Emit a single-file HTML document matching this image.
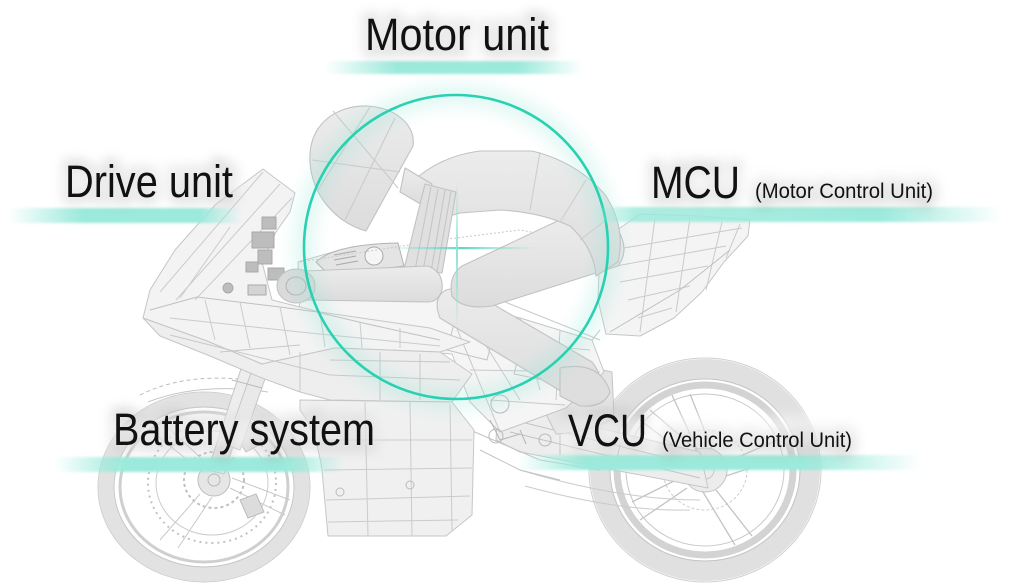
<!DOCTYPE html>
<html><head><meta charset="utf-8">
<style>
html,body{margin:0;padding:0;background:#fff;width:1013px;height:584px;overflow:hidden;}
svg{display:block;}
.t{font-family:"Liberation Sans",sans-serif;fill:#111;}
.h{font-family:"Liberation Sans",sans-serif;fill:#9a9a9a;stroke:#9a9a9a;stroke-width:9;}
</style></head><body>
<svg width="1013" height="584" viewBox="0 0 1013 584" xmlns="http://www.w3.org/2000/svg">
<defs>
 <filter id="b1" x="-5%" y="-100%" width="110%" height="300%"><feGaussianBlur stdDeviation="1.2"/></filter>
 <filter id="b6" x="-20%" y="-80%" width="140%" height="260%"><feGaussianBlur stdDeviation="6"/></filter>
 <filter id="b9" x="-30%" y="-30%" width="160%" height="160%"><feGaussianBlur stdDeviation="9"/></filter>
 <linearGradient id="gM" gradientUnits="userSpaceOnUse" x1="325" x2="582"><stop offset="0" stop-color="#9beadb" stop-opacity="0"/><stop offset=".28" stop-color="#9beadb"/><stop offset=".75" stop-color="#9beadb"/><stop offset="1" stop-color="#9beadb" stop-opacity="0"/></linearGradient>
 <linearGradient id="gD" gradientUnits="userSpaceOnUse" x1="8" x2="242"><stop offset="0" stop-color="#9beadb" stop-opacity="0"/><stop offset=".32" stop-color="#9beadb"/><stop offset=".82" stop-color="#9beadb"/><stop offset="1" stop-color="#9beadb" stop-opacity="0"/></linearGradient>
 <linearGradient id="gC" gradientUnits="userSpaceOnUse" x1="592" x2="1002"><stop offset="0" stop-color="#9beadb" stop-opacity="0"/><stop offset=".1" stop-color="#9beadb" stop-opacity=".8"/><stop offset=".7" stop-color="#9beadb"/><stop offset="1" stop-color="#9beadb" stop-opacity="0"/></linearGradient>
 <linearGradient id="gB" gradientUnits="userSpaceOnUse" x1="55" x2="345"><stop offset="0" stop-color="#9beadb" stop-opacity="0"/><stop offset=".24" stop-color="#9beadb"/><stop offset=".8" stop-color="#9beadb"/><stop offset="1" stop-color="#9beadb" stop-opacity="0"/></linearGradient>
 <linearGradient id="gV" gradientUnits="userSpaceOnUse" x1="518" x2="922"><stop offset="0" stop-color="#9beadb" stop-opacity="0"/><stop offset=".17" stop-color="#9beadb"/><stop offset=".7" stop-color="#9beadb"/><stop offset="1" stop-color="#9beadb" stop-opacity="0"/></linearGradient>
 <linearGradient id="gH" gradientUnits="userSpaceOnUse" x1="388" x2="536"><stop offset="0" stop-color="#6fdcc6" stop-opacity="0"/><stop offset=".5" stop-color="#5fd8c0"/><stop offset="1" stop-color="#6fdcc6" stop-opacity="0"/></linearGradient>
 <linearGradient id="gVt" gradientUnits="userSpaceOnUse" x1="0" y1="180" x2="0" y2="330"><stop offset="0" stop-color="#8ee4d2" stop-opacity="0"/><stop offset=".5" stop-color="#8ee4d2"/><stop offset="1" stop-color="#8ee4d2" stop-opacity="0"/></linearGradient>
 <linearGradient id="rider" x1="0" y1="0" x2="0" y2="1"><stop offset="0" stop-color="#ececec"/><stop offset="1" stop-color="#dcdcdc"/></linearGradient>
</defs>

<!-- ===== BIKE ===== -->
<g stroke="#c6c6c6" stroke-width="1" fill="none" stroke-linejoin="round">
 <!-- rear wheel -->
 <ellipse cx="705" cy="470" rx="116" ry="112" stroke="#d0d0d0"/>
 <ellipse cx="705" cy="470" rx="105" ry="101" stroke="#e0e0e0" stroke-width="20"/>
 <ellipse cx="705" cy="470" rx="95" ry="91" stroke="#c4c4c4"/>
 <ellipse cx="705" cy="470" rx="88" ry="85" stroke="#d3d3d3" stroke-width="7"/>
 <ellipse cx="705" cy="470" rx="79" ry="76" stroke="#c8c8c8"/>
 <ellipse cx="705" cy="470" rx="42" ry="40" stroke="#cfcfcf" stroke-dasharray="3 2"/>
 <circle cx="705" cy="470" r="22" fill="#ececec"/>
 <circle cx="705" cy="470" r="9"/>
 <path d="M697 449 L672 395 M712 449 L690 394 M724 463 L778 440 M726 476 L780 458 M716 490 L752 536 M703 492 L735 545 M687 488 L640 520 M684 476 L632 502 M690 458 L640 420 M697 450 L650 410" stroke="#c3c3c3" stroke-width="1.3"/>
 <!-- front wheel -->
 <ellipse cx="204" cy="487" rx="106" ry="95" stroke="#cdcdcd"/>
 <ellipse cx="204" cy="487" rx="98" ry="87" stroke="#e2e2e2" stroke-width="15"/>
 <ellipse cx="204" cy="487" rx="90" ry="80" stroke="#c6c6c6"/>
 <ellipse cx="204" cy="487" rx="84" ry="75" stroke="#cfcfcf" stroke-width="3"/>
 <ellipse cx="212" cy="483" rx="64" ry="60" stroke="#c2c2c2" stroke-dasharray="2 4" stroke-width="2"/>
 <ellipse cx="212" cy="483" rx="56" ry="52" stroke="#cbcbcb"/>
 <ellipse cx="214" cy="480" rx="30" ry="28" stroke="#c0c0c0" stroke-dasharray="3 3" stroke-width="2"/>
 <circle cx="214" cy="480" r="16" fill="#e6e6e6" stroke="#bdbdbd"/>
 <circle cx="214" cy="480" r="6" stroke="#b8b8b8"/>
 <path d="M200 470 L150 430 M205 462 L160 420 M200 494 L160 540 M212 497 L178 548 M230 488 L285 515 M232 478 L290 500" stroke="#c9c9c9"/>
 <path d="M232 430 l18 -10 l14 22 l-18 10 Z M240 500 l16 -6 l8 18 l-16 6 Z" fill="#dcdcdc" stroke="#bbb"/>
 <!-- front fender -->
 <path d="M140 395 Q190 370 262 382" stroke="#bdbdbd" stroke-dasharray="4 3"/>
 <path d="M148 402 Q200 382 268 392"/>
 <!-- forks -->
 <path d="M208 470 L252 335 L268 338 L224 474 Z" fill="#ededed"/>
 <path d="M226 445 L270 318 L285 322 L240 450 Z" fill="#e9e9e9"/>
 <path d="M232 380 l30 8 M238 360 l30 8 M244 343 l28 7" stroke="#bbb"/>

 <!-- swingarm / chain -->
 <path d="M498 404 L700 452 L708 488 L520 452 L496 440 Z" fill="#ededed"/>
 <path d="M505 418 L700 466 M510 432 L700 478 M560 430 L560 455 M620 444 L615 470" stroke="#c2c2c2"/>
 <path d="M520 470 Q620 500 700 500 M525 486 Q620 512 690 510" stroke="#cbcbcb"/>
 <!-- hugger -->
 <path d="M540 402 Q575 362 612 372 L614 418 Q590 432 556 434 Z" fill="#e5e5e5" stroke="#c4c4c4"/>

 <!-- tail -->
 <path d="M600 242 L640 214 L700 216 L750 220 L748 236 L724 262 L702 292 L674 318 L640 336 L606 334 L598 300 Z" fill="#f4f4f4"/>
 <path d="M612 250 L742 228 M616 266 L726 246 M620 282 L708 266 M628 300 L690 286 M638 318 L672 308 M655 218 L640 332 M690 218 L676 312 M722 222 L706 290 M740 224 L726 258" stroke="#cacaca"/>
 <path d="M610 332 L680 290 L730 250 M600 330 L560 380" stroke="#c0c0c0"/>

 <!-- tank / frame area -->
 <path d="M298 262 L340 250 L402 266 L445 300 L520 318 L592 340 L604 372 L566 408 L500 432 L470 402 L452 354 L335 346 L300 322 Z" fill="#f5f5f5"/>
 <path d="M445 300 L470 360 L500 432 M470 320 L520 400 M520 318 L540 390 M560 330 L556 400 M480 340 L590 350 M470 370 L600 372 M490 400 L565 405 M600 340 L500 300" stroke="#c9c9c9"/>
 <path d="M455 320 l40 10 l-8 30 l-40 -10 Z M520 350 l30 6 l-6 24 l-30 -6 Z" stroke="#c4c4c4"/>
 <circle cx="500" cy="404" r="9" stroke="#b9b9b9"/>
 <circle cx="496" cy="436" r="7" stroke="#b9b9b9"/>
 <circle cx="545" cy="440" r="6" stroke="#b9b9b9"/>
 <path d="M470 430 L540 460 L600 470 M480 450 L520 470 L560 480" stroke="#c2c2c2"/>
 <path d="M490 420 l10 20 l20 -6 M520 430 l6 14" stroke="#b5b5b5"/>

 <!-- upper fairing -->
 <path d="M263 169 L295 193 L290 212 L276 232 L262 262 L272 300 L320 312 L430 328 L470 342 L440 352 L335 348 L262 364 L207 341 L143 318 L150 290 L175 250 L215 205 Z" fill="#f3f3f3"/>
 <path d="M263 172 L160 292 M280 184 L176 300 M292 198 L195 300 M230 227 L180 298" stroke="#cbcbcb"/>
 <path d="M150 310 L197 297 L280 307 L317 312 L363 323 L440 340" stroke="#c0c0c0"/>
 <path d="M170 318 L300 332 L440 346 M205 300 L215 340 M240 302 L250 348 M280 307 L290 355 M320 312 L325 347 M360 322 L362 348 M400 328 L400 348" stroke="#cbcbcb"/>
 <!-- side fairing -->
 <path d="M143 318 L207 341 L262 364 L335 348 L440 352 L472 374 L452 402 L330 400 L300 392 L262 378 L210 356 L160 336 Z" fill="#eeeeee"/>
 <path d="M170 335 L330 375 L460 380 M220 352 L300 345 M330 360 L450 362 M300 352 L300 392 M380 352 L380 400 M420 354 L420 400" stroke="#c8c8c8"/>
 <!-- lower fairing -->
 <path d="M300 400 L452 402 L474 430 L472 515 L446 536 L328 536 L322 470 Q316 430 300 410 Z" fill="#f0f0f0"/>
 <path d="M322 440 L472 440 M324 470 L472 468 M326 500 L470 496 M328 522 L458 520 M365 402 L368 536 M410 402 L412 536 M450 404 L452 530" stroke="#cbcbcb"/>
 <circle cx="340" cy="492" r="4" stroke="#bbb"/><circle cx="410" cy="485" r="4" stroke="#bbb"/>

 <!-- clip-on / mirror clutter -->
 <g fill="#bdbdbd" stroke="#a8a8a8">
  <rect x="262" y="217" width="14" height="12"/>
  <rect x="252" y="232" width="22" height="16"/>
  <rect x="258" y="250" width="14" height="14"/>
  <rect x="246" y="262" width="12" height="10"/>
  <rect x="268" y="268" width="16" height="12"/>
  <circle cx="228" cy="288" r="5"/>
  <rect x="248" y="285" width="18" height="10" fill="#d4d4d4"/>
 </g>
 <!-- dash -->
 <path d="M316 262 Q335 244 398 243 L404 266 L330 276 Z" fill="#e4e4e4" stroke="#b3b3b3"/>
 <circle cx="374" cy="256" r="9" fill="#f6f6f6" stroke="#aaa"/>
 <path d="M334 255 l22 -4 M334 260 l22 -4 M336 265 l22 -4" stroke="#a8a8a8"/>
 <path d="M300 262 L440 240 L520 230 L600 245" stroke="#c9c9c9" stroke-dasharray="2 2"/>
</g>

<!-- ===== RIDER ===== -->
<g stroke="#c2c2c2" stroke-width="1.1" fill="url(#rider)" stroke-linejoin="round">
 <!-- shin -->
 <path d="M462 286 L592 362 Q606 380 596 394 L572 398 L440 318 Q432 298 446 290 Z"/>
 <path d="M560 368 Q600 360 610 392 Q604 408 580 406 L560 396 Z" fill="#dedede"/>
 <!-- thigh -->
 <path d="M566 217 L618 230 Q630 250 618 266 L492 306 Q462 310 452 296 Q448 276 462 266 Z"/>
 <!-- torso -->
 <path d="M412 182 Q440 156 480 151 L532 151 Q578 162 606 196 Q626 228 618 262 L596 276 Q594 248 570 226 Q540 212 500 210 L460 213 L430 222 Z"/>
 <path d="M540 152 L530 210 M586 180 L560 222 M606 220 L580 240" stroke="#cdcdcd" fill="none"/>
 <!-- helmet -->
 <path d="M310 162 C308 125 335 105 368 106 C397 108 416 126 413 146 L366 231 C335 222 312 195 310 162 Z"/>
 <path d="M333 111 L398 188 M370 107 L318 190 M395 118 L345 220 M312 160 L400 172" stroke="#cbcbcb" fill="none"/>
 <path d="M405 168 L432 184 L424 206 L400 192 Z"/>
 <!-- upper arm (sleeve) -->
 <path d="M425 184 L456 192 L442 273 L404 269 Z" fill="#e0e0e0"/>
 <path d="M431 187 L415 270 M438 189 L423 271 M445 190 L431 272 M451 191 L437 272" stroke="#c6c6c6" fill="none"/>
 <!-- forearm -->
 <path d="M305 271 L428 266 Q444 272 442 290 Q438 302 428 302 L305 300 Z"/>
 <ellipse cx="296" cy="286" rx="19" ry="17" fill="#dadada"/>
 <ellipse cx="296" cy="286" rx="10" ry="9" fill="none" stroke="#b5b5b5"/>
</g>

<!-- ===== TEAL CIRCLE ===== -->
<circle cx="456" cy="247" r="152" fill="none" stroke="#8fe6d4" stroke-width="16" opacity=".35" filter="url(#b9)"/>
<circle cx="456" cy="247" r="152" fill="none" stroke="#27d1b1" stroke-width="2.6"/>
<rect x="388" y="247" width="148" height="2.2" fill="url(#gH)"/>
<rect x="456" y="180" width="2" height="150" fill="url(#gVt)"/>

<!-- ===== BARS ===== -->
<g filter="url(#b1)">
 <rect x="325" y="61" width="257" height="13" fill="url(#gM)"/>
 <rect x="8" y="208" width="234" height="15" fill="url(#gD)"/>
 <rect x="592" y="207" width="410" height="15" fill="url(#gC)"/>
 <rect x="55" y="457" width="290" height="15" fill="url(#gB)"/>
 <rect x="518" y="455" width="404" height="15" fill="url(#gV)"/>
</g>

<!-- ===== TEXT HALOS ===== -->
<g filter="url(#b6)" opacity=".45">
 <text class="h" x="365" y="50" font-size="45" textLength="184" lengthAdjust="spacingAndGlyphs">Motor unit</text>
 <text class="h" x="65" y="197" font-size="45" textLength="168" lengthAdjust="spacingAndGlyphs">Drive unit</text>
 <text class="h" x="651" y="198" font-size="45" textLength="89" lengthAdjust="spacingAndGlyphs">MCU</text>
 <text class="h" x="755" y="198" font-size="21" textLength="178" lengthAdjust="spacingAndGlyphs">(Motor Control Unit)</text>
 <text class="h" x="113" y="445" font-size="45" textLength="262" lengthAdjust="spacingAndGlyphs">Battery system</text>
 <text class="h" x="568" y="446" font-size="45" textLength="79" lengthAdjust="spacingAndGlyphs">VCU</text>
 <text class="h" x="662" y="447" font-size="21" textLength="190" lengthAdjust="spacingAndGlyphs">(Vehicle Control Unit)</text>
</g>
<g fill="#fff" opacity=".55" filter="url(#b6)">
 <rect x="360" y="18" width="194" height="34"/>
 <rect x="60" y="166" width="178" height="33"/>
 <rect x="646" y="166" width="290" height="33"/>
 <rect x="108" y="416" width="272" height="31"/>
 <rect x="563" y="416" width="294" height="32"/>
</g>

<!-- ===== TEXT ===== -->
<text class="t" x="365" y="50" font-size="45" textLength="184" lengthAdjust="spacingAndGlyphs">Motor unit</text>
<text class="t" x="65" y="197" font-size="45" textLength="168" lengthAdjust="spacingAndGlyphs">Drive unit</text>
<text class="t" x="651" y="198" font-size="45" textLength="89" lengthAdjust="spacingAndGlyphs">MCU</text>
<text class="t" x="755" y="198" font-size="21" textLength="178" lengthAdjust="spacingAndGlyphs">(Motor Control Unit)</text>
<text class="t" x="113" y="445" font-size="45" textLength="262" lengthAdjust="spacingAndGlyphs">Battery system</text>
<text class="t" x="568" y="446" font-size="45" textLength="79" lengthAdjust="spacingAndGlyphs">VCU</text>
<text class="t" x="662" y="447" font-size="21" textLength="190" lengthAdjust="spacingAndGlyphs">(Vehicle Control Unit)</text>
</svg>
</body></html>
